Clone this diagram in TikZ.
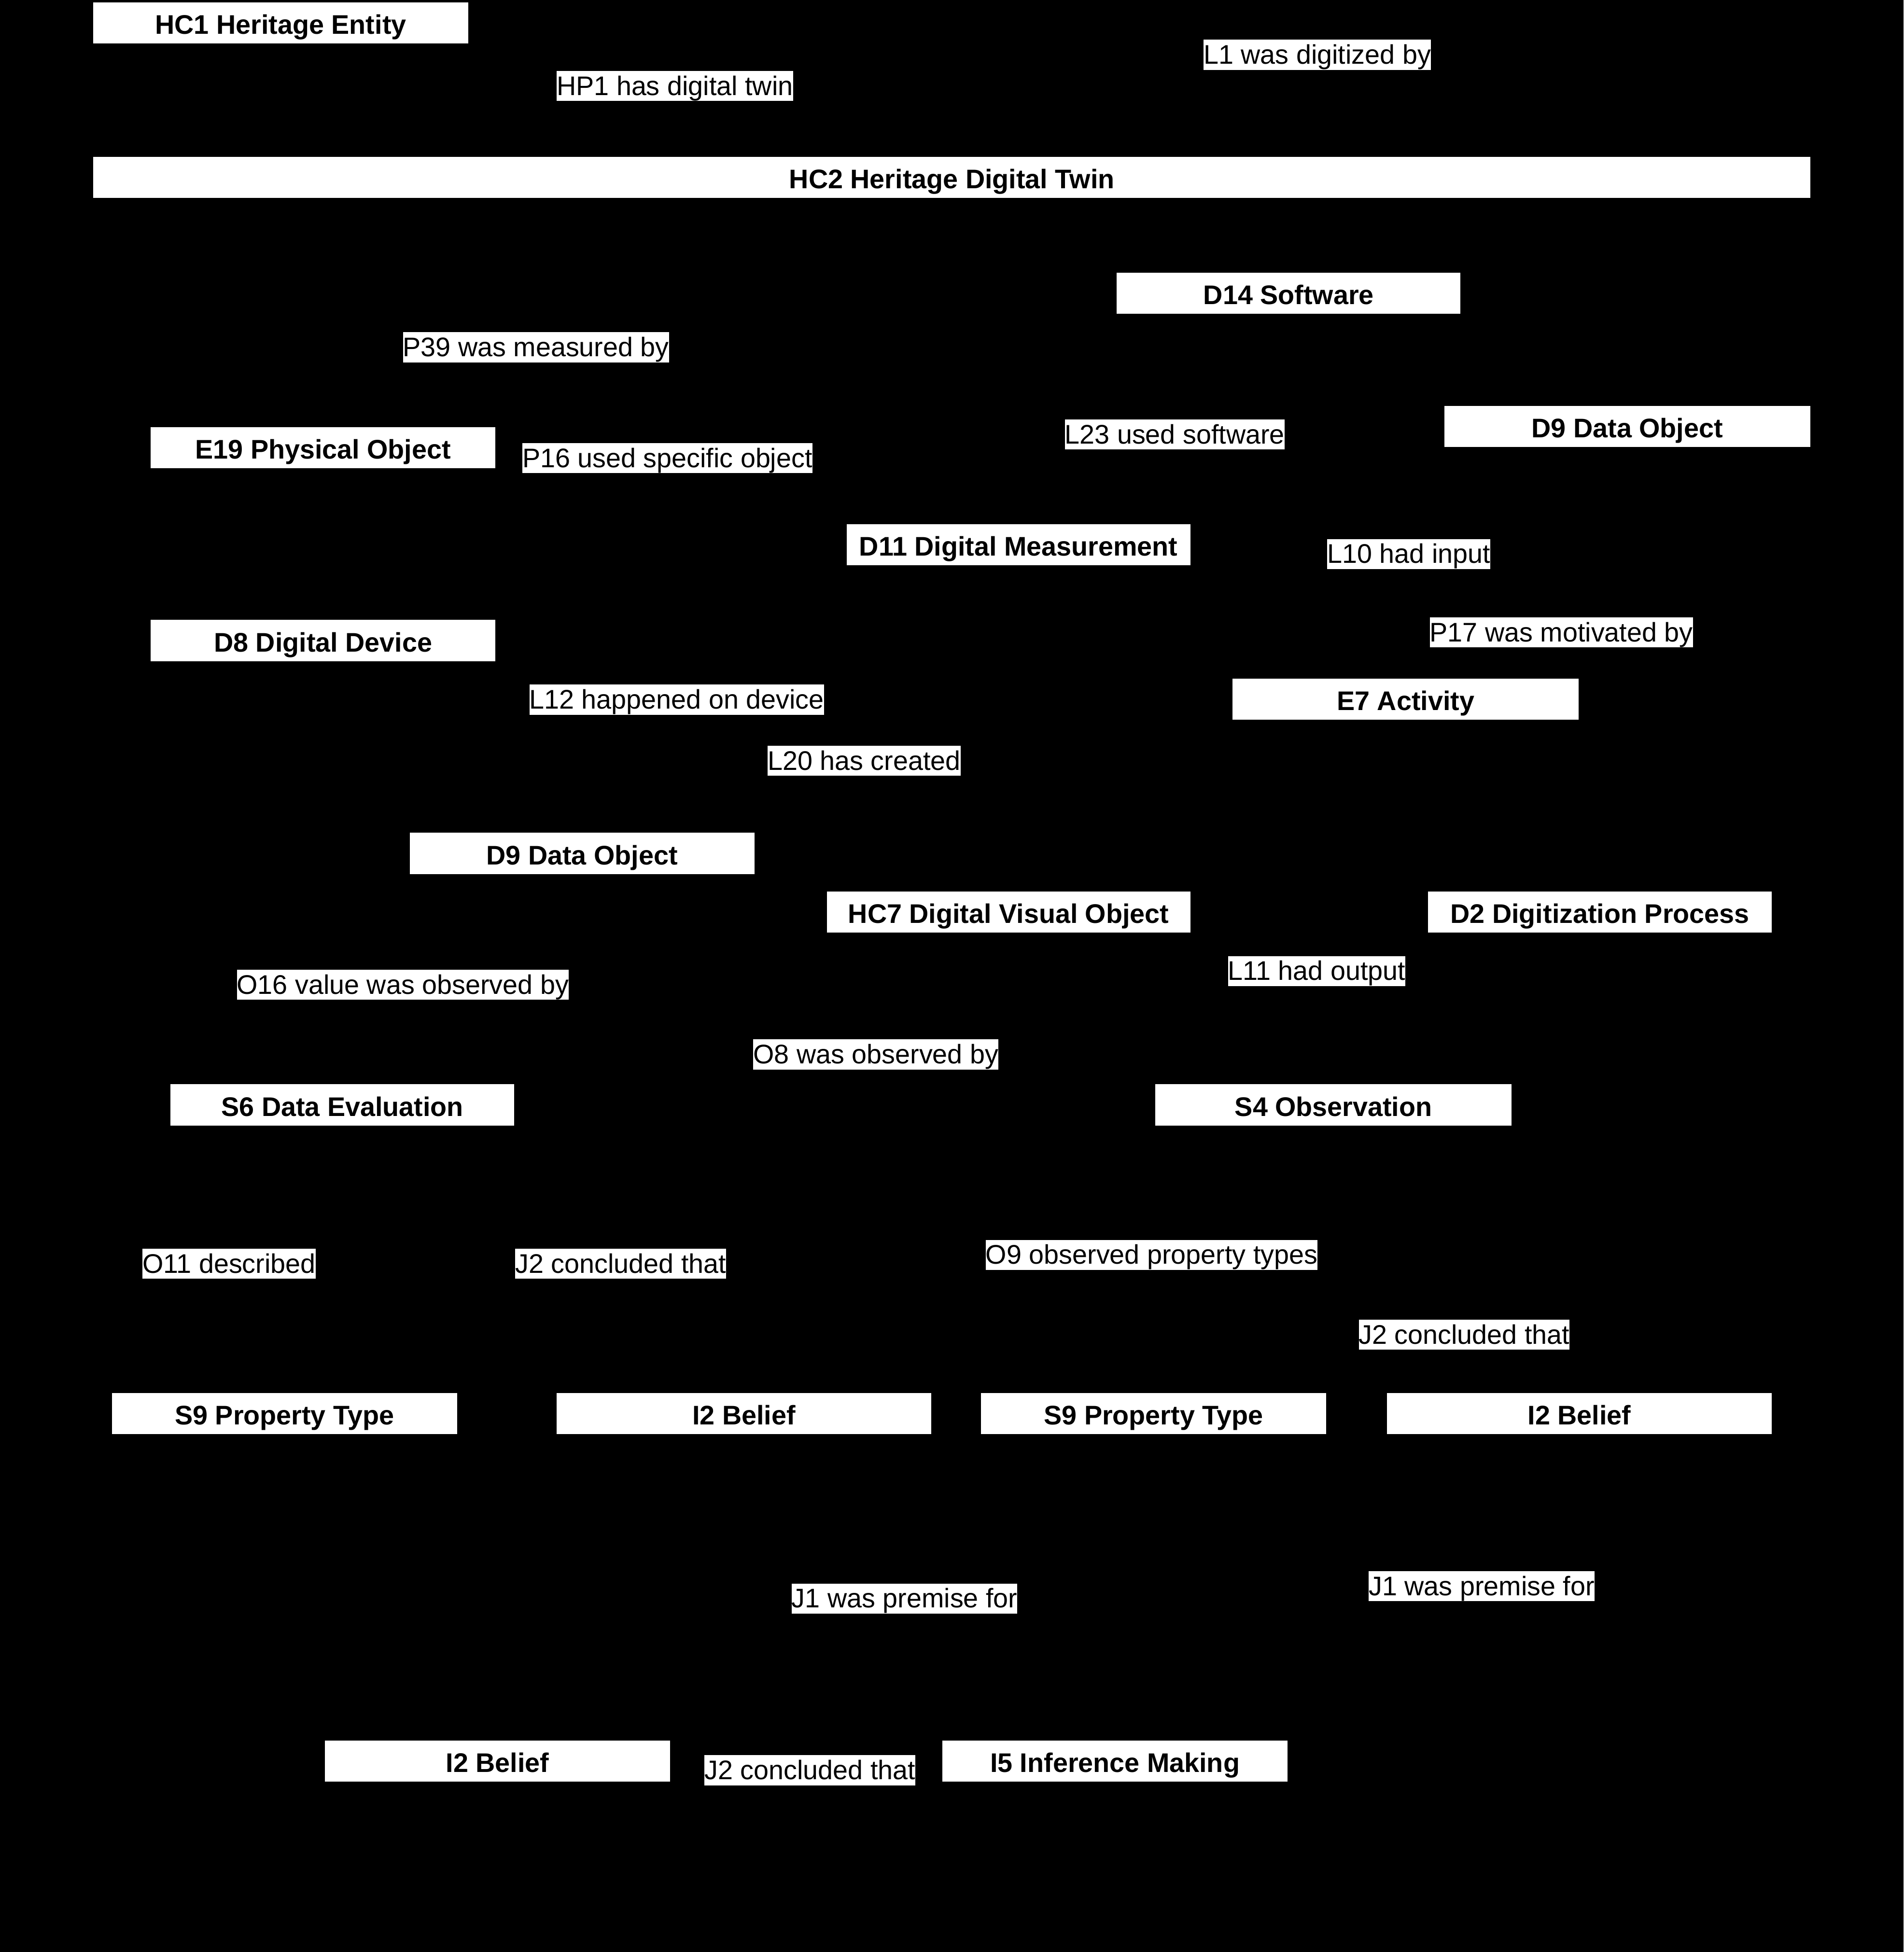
\documentclass[tikz,border=0pt]{standalone}
\usepackage{fontspec}
\setmainfont{Liberation Sans}
\usetikzlibrary{arrows.meta}
\pgfdeclarelayer{back}
\pgfdeclarelayer{links}
\pgfsetlayers{back,links,main}
\tikzset{
  cls/.style={fill=white, draw=none, inner xsep=0pt, inner ysep=4.45pt, minimum height=33pt,
    text height=21pt, text depth=3.1pt, font=\fontsize{21.6}{26}\selectfont\bfseries, text=black},
  rel/.style={fill=white, draw=none, inner sep=0pt, text height=19.5pt, text depth=4.6pt,
    font=\fontsize{21.6}{26}\selectfont, text=black},
  conn/.style={draw=black, line width=1.2pt, -{Stealth[length=12pt]}}
}
\begin{document}
\begin{tikzpicture}[x=1pt,y=-1pt]
\begin{pgfonlayer}{back}
\fill[black] (0,0) rectangle (1529,1568);
\end{pgfonlayer}
\useasboundingbox (0,0) rectangle (1529,1568);
% classes
\node[cls, minimum width=301pt] (hc1) at (225.5,18.5) {HC1 Heritage Entity};
\node[cls, minimum width=1379pt] (hc2) at (764.5,142.5) {HC2 Heritage Digital Twin};
\node[cls, minimum width=276pt] (d14) at (1035,235.5) {D14 Software};
\node[cls, minimum width=294pt] (d9r) at (1307,342.5) {D9 Data Object};
\node[cls, minimum width=277pt] (e19) at (259.5,359.5) {E19 Physical Object};
\node[cls, minimum width=276pt] (d11) at (818,437.5) {D11 Digital Measurement};
\node[cls, minimum width=277pt] (d8) at (259.5,514.5) {D8 Digital Device};
\node[cls, minimum width=278pt] (e7) at (1129,561.5) {E7 Activity};
\node[cls, minimum width=277pt] (d9l) at (467.5,685.5) {D9 Data Object};
\node[cls, minimum width=292pt] (hc7) at (810,732.5) {HC7 Digital Visual Object};
\node[cls, minimum width=276pt] (d2) at (1285,732.5) {D2 Digitization Process};
\node[cls, minimum width=276pt] (s6) at (275,887.5) {S6 Data Evaluation};
\node[cls, minimum width=286pt] (s4) at (1071,887.5) {S4 Observation};
\node[cls, minimum width=277pt] (s9l) at (228.5,1135.5) {S9 Property Type};
\node[cls, minimum width=301pt] (i2a) at (597.5,1135.5) {I2 Belief};
\node[cls, minimum width=277pt] (s9r) at (926.5,1135.5) {S9 Property Type};
\node[cls, minimum width=309pt] (i2b) at (1268.5,1135.5) {I2 Belief};
\node[cls, minimum width=277pt] (i2c) at (399.5,1414.5) {I2 Belief};
\node[cls, minimum width=277pt] (i5) at (895.5,1414.5) {I5 Inference Making};
% relation labels
\node[rel] (lhp1) at (542,69) {HP1 has digital twin};
\node[rel] (ll1) at (1058,44) {L1 was digitized by};
\node[rel] (lp39) at (430.5,279) {P39 was measured by};
\node[rel] (ll23) at (943.5,349) {L23 used software};
\node[rel] (lp16) at (536,368) {P16 used specific object};
\node[rel] (ll10) at (1131.5,445) {L10 had input};
\node[rel] (lp17) at (1254,508) {P17 was motivated by};
\node[rel] (ll12) at (543.5,562) {L12 happened on device};
\node[rel] (ll20) at (694,611) {L20 has created};
\node[rel] (lo16) at (323.5,791) {O16 value was observed by};
\node[rel] (ll11) at (1057.5,780) {L11 had output};
\node[rel] (lo8) at (703.5,847) {O8 was observed by};
\node[rel] (lo11) at (184,1015) {O11 described};
\node[rel] (lj2a) at (498.5,1015) {J2 concluded that};
\node[rel] (lo9) at (925,1008) {O9 observed property types};
\node[rel] (lj2b) at (1176,1072) {J2 concluded that};
\node[rel] (lj1a) at (726.5,1284) {J1 was premise for};
\node[rel] (lj1b) at (1190,1274) {J1 was premise for};
\node[rel] (lj2c) at (650.5,1422) {J2 concluded that};
% connectors (black, under the boxes)
\begin{pgfonlayer}{links}
\draw[conn] (hc1) -- (lhp1) -- (hc2);
\draw[conn] (hc2) -- (ll1) -- (d2);
\draw[conn] (e19) -- (lp39) -- (d11);
\draw[conn] (d2) -- (ll23) -- (d14);
\draw[conn] (d11) -- (lp16) -- (e19);
\draw[conn] (d2) -- (ll10) -- (d9r);
\draw[conn] (d2) -- (lp17) -- (e7);
\draw[conn] (d11) -- (ll12) -- (d8);
\draw[conn] (d11) -- (ll20) -- (d9l);
\draw[conn] (d2) -- (ll11) -- (hc7);
\draw[conn] (d9l) -- (lo16) -- (s6);
\draw[conn] (hc7) -- (lo8) -- (s4);
\draw[conn] (s6) -- (lo11) -- (s9l);
\draw[conn] (s6) -- (lj2a) -- (i2a);
\draw[conn] (s4) -- (lo9) -- (s9r);
\draw[conn] (s4) -- (lj2b) -- (i2b);
\draw[conn] (i2a) -- (lj1a) -- (i5);
\draw[conn] (i2b) -- (lj1b) -- (i5);
\draw[conn] (i5) -- (lj2c) -- (i2c);
\end{pgfonlayer}
\end{tikzpicture}
\end{document}
